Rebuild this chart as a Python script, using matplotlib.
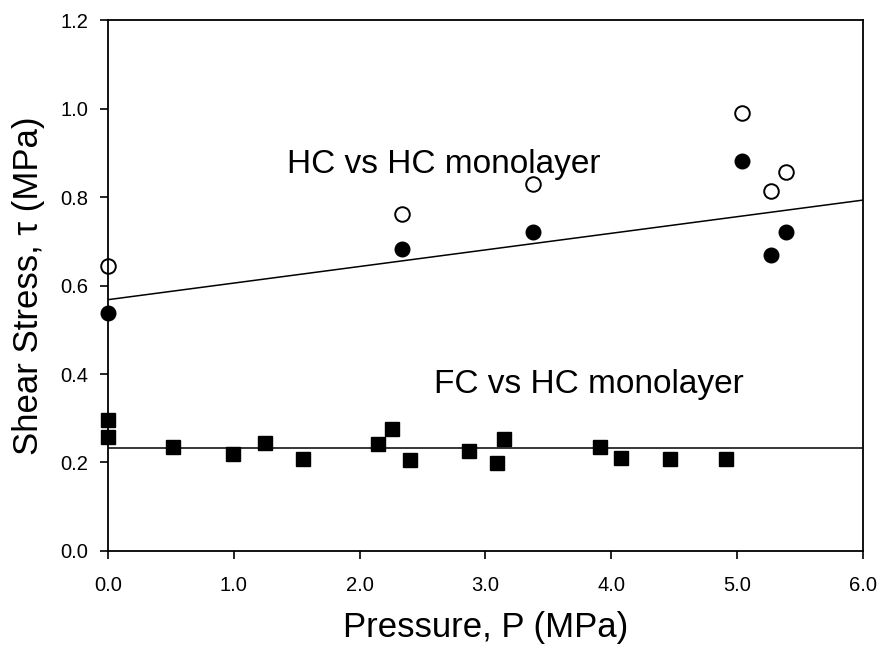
import numpy as np
import matplotlib
matplotlib.use('Agg')
import matplotlib.pyplot as plt

plt.rcParams['font.family'] = ['Liberation Sans', 'DejaVu Sans']

# FC vs HC monolayer (filled squares)
fc_p = [0.0, 0.0, 0.52, 0.99, 1.25, 1.55, 2.15, 2.26, 2.40, 2.87, 3.09, 3.15, 3.91, 4.08, 4.47, 4.91]
fc_tau = [0.297, 0.257, 0.235, 0.220, 0.244, 0.208, 0.241, 0.276, 0.205, 0.225, 0.199, 0.253,
          0.235, 0.210, 0.209, 0.209]

# HC vs HC monolayer (open and filled circles)
hc_p = [0.0, 2.34, 3.38, 5.04, 5.27, 5.39]
hc_open = [0.644, 0.762, 0.829, 0.989, 0.814, 0.857]
hc_filled = [0.538, 0.683, 0.720, 0.881, 0.669, 0.721]

# fitted lines (intercept, slope)
fc_fit = (0.233, 0.0)
hc_fit = (0.568, 0.0375)

xticks = [0, 1, 2, 3, 4, 5, 6]
yticks = [0.0, 0.2, 0.4, 0.6, 0.8, 1.0, 1.2]

fig = plt.figure(figsize=(8.78, 6.47), dpi=100)
ax = fig.add_axes([0.123, 0.1484, 0.8596, 0.8206])

xl = np.array([0, 6])
ax.plot(xl, hc_fit[0] + hc_fit[1] * xl, color='black', lw=1.1)
ax.plot(xl, fc_fit[0] + fc_fit[1] * xl, color='black', lw=1.1)

ax.plot(fc_p, fc_tau, 's', color='black', ms=10, clip_on=False)
ax.plot(hc_p, hc_open, 'o', mfc='white', mec='black', mew=1.4, ms=10.5, clip_on=False)
ax.plot(hc_p, hc_filled, 'o', color='black', ms=10.5, clip_on=False)

ax.text(2.67, 0.873, 'HC vs HC monolayer', fontsize=24, ha='center', va='center')
ax.text(3.82, 0.377, 'FC vs HC monolayer', fontsize=24, ha='center', va='center')

ax.set_xlim(0, 6)
ax.set_ylim(0, 1.2)
ax.set_xticks(xticks)
ax.set_xticklabels(['%.1f' % v for v in xticks])
ax.set_yticks(yticks)
ax.set_yticklabels(['%.1f' % v for v in yticks])
ax.tick_params(direction='out', length=6, width=1.2, labelsize=14.5,
               top=False, right=False)
ax.tick_params(axis='x', pad=12)
ax.tick_params(axis='y', pad=8)
for s in ax.spines.values():
    s.set_linewidth(1.3)

ax.set_xlabel('Pressure, P (MPa)', fontsize=25)
ax.set_ylabel('Shear Stress, \u03c4 (MPa)', fontsize=25)
ax.xaxis.set_label_coords(0.5, -0.113)
ax.yaxis.set_label_coords(-0.083, 0.5)

plt.savefig('out.png')
